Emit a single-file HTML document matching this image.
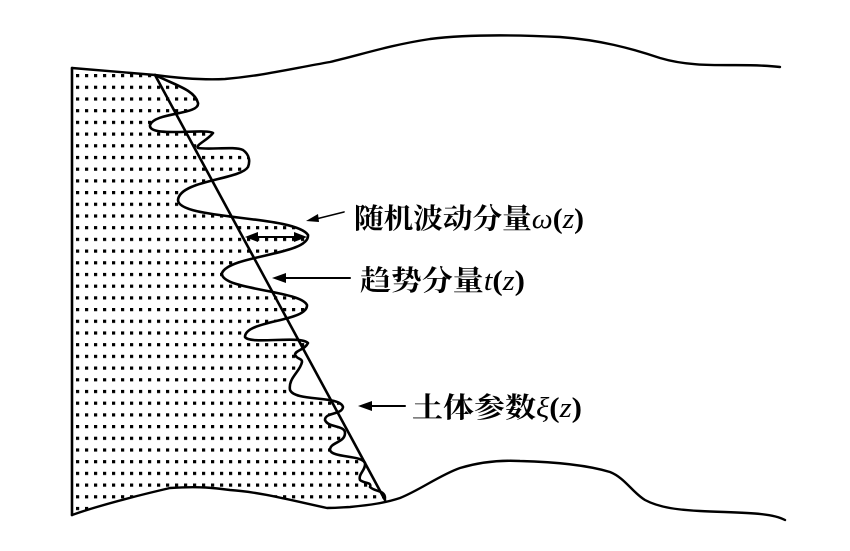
<!DOCTYPE html>
<html><head><meta charset="utf-8"><style>
html,body{margin:0;padding:0;background:#fff;}
svg{display:block;}
text{font-family:"Liberation Serif","Noto Serif CJK SC",serif;font-size:28px;font-weight:bold;fill:#000;}
</style></head><body>
<svg width="850" height="551" viewBox="0 0 850 551" xmlns="http://www.w3.org/2000/svg">
<defs>
<pattern id="dots" x="76" y="74" width="9" height="11.7" patternUnits="userSpaceOnUse">
<rect x="0" y="0" width="3.2" height="3.2" fill="#000"/>
</pattern>
<clipPath id="clip">
<path d="M72,68 L155,75 C175,85 195,90 198,103 C200,115 155,112 150,125 C148,138 205,128 213,133 C208,140 195,145 198,148 C210,150 235,146 243,150 C250,155 250,162 248,167 C240,180 180,180 178,200 C178,220 295,215 308,235 C310,255 230,255 222,273 C220,290 300,290 307,305 C308,322 245,320 245,337 C250,345 300,335 308,343 C305,350 295,350 295,355 C298,360 302,358 302,362 C300,372 288,378 290,390 C295,402 340,395 343,407 C342,415 325,412 325,420 C328,428 345,425 345,433 C345,443 330,442 330,450 C332,458 362,455 365,463 C366,470 358,474 360,480 C365,484 372,482 370,487 L385,498 L350,507 C340,507 330,508 327,508 C290,500 260,490 230,490 C200,488 185,486 170,488 C140,495 100,505 72,515 Z"/>
</clipPath>
</defs>
<rect x="60" y="60" width="340" height="470" fill="url(#dots)" clip-path="url(#clip)"/>
<g fill="none" stroke="#000" stroke-width="2.6" stroke-linejoin="round" stroke-linecap="round">
<path d="M72,68 L72,515"/>
<path d="M72,68 L155,75 C185,79 205,80 225,79 C260,76 285,70 330,62 C360,55 390,45 430,39 C470,34 520,35 560,37 C600,40 630,48 660,58 C700,70 740,62 780,67" stroke-width="2.4"/>
<path d="M72,515 C100,505 140,495 170,488 C200,486 215,488 230,490 C260,492 290,500 327,508 C340,508 345,507 350,507 C370,505 385,503 400,498 C420,490 440,475 460,468 C480,462 500,460 520,461 C560,462 590,466 610,472 C625,478 632,492 645,500 C660,508 680,510 700,511 C740,513 770,512 785,520" stroke-width="2.4"/>
<path d="M155,75 L385,500"/>
<path d="M155,75 C175,85 195,90 198,103 C200,115 155,112 150,125 C148,138 205,128 213,133 C208,140 195,145 198,148 C210,150 235,146 243,150 C250,155 250,162 248,167 C240,180 180,180 178,200 C178,220 295,215 308,235 C310,255 230,255 222,273 C220,290 300,290 307,305 C308,322 245,320 245,337 C250,345 300,335 308,343 C305,350 295,350 295,355 C298,360 302,358 302,362 C300,372 288,378 290,390 C295,402 340,395 343,407 C342,415 325,412 325,420 C328,428 345,425 345,433 C345,443 330,442 330,450 C332,458 362,455 365,463 C366,470 358,474 360,480 C365,484 372,482 370,487 C375,492 385,490 385,498"/>
<path d="M344,212 L312,220" stroke-width="1.6"/>
<path d="M350,278 L280,278" stroke-width="2"/>
<path d="M405,406 L365,406" stroke-width="2"/>
<path d="M252,237 L300,237" stroke-width="2"/>
</g>
<g fill="#000">
<polygon points="306,221 318,214 319,222"/>
<polygon points="272,278 286,273 286,283"/>
<polygon points="358,406 372,401 372,411"/>
<polygon points="245,237 258,232 258,242"/>
<polygon points="307,237 294,232 294,242"/>
</g>
<text x="354" y="228" textLength="230" lengthAdjust="spacingAndGlyphs">随机波动分量<tspan font-style="italic" font-weight="normal">ω</tspan>(<tspan font-style="italic" font-weight="normal">z</tspan>)</text>
<text x="360" y="290" textLength="165" lengthAdjust="spacingAndGlyphs">趋势分量<tspan font-style="italic" font-weight="normal">t</tspan>(<tspan font-style="italic" font-weight="normal">z</tspan>)</text>
<text x="412" y="417" textLength="170" lengthAdjust="spacingAndGlyphs">土体参数<tspan font-style="italic" font-weight="normal">ξ</tspan>(<tspan font-style="italic" font-weight="normal">z</tspan>)</text>
</svg>
</body></html>
